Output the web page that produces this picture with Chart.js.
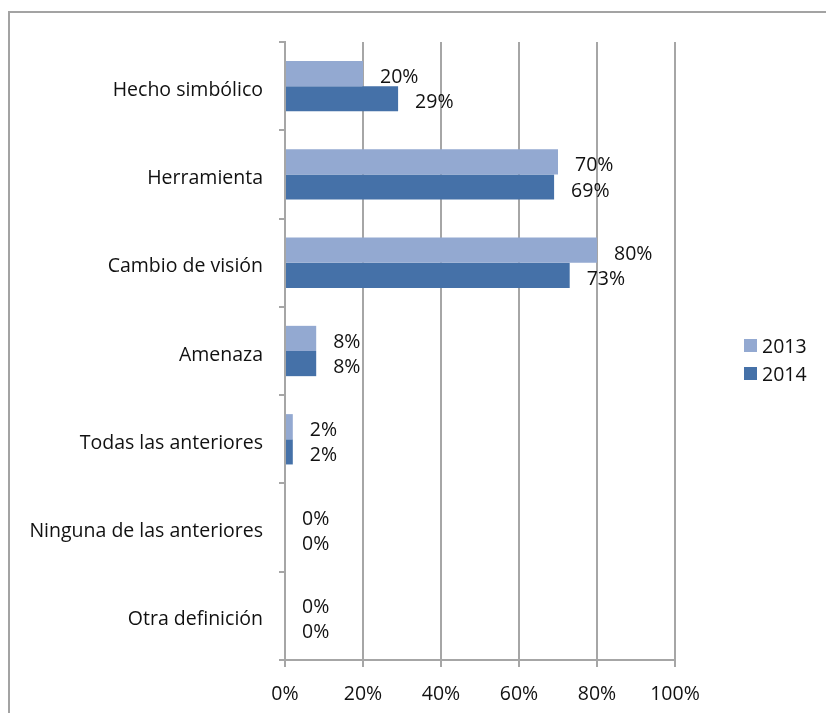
<!DOCTYPE html>
<html>
<head>
<meta charset="utf-8">
<script src="https://cdn.jsdelivr.net/npm/chart.js@4.4.0/dist/chart.umd.min.js"></script>
<style>
  html, body { margin: 0; padding: 0; background: #fff; }
  #wrap { position: relative; width: 826px; height: 713px; }
  #frame {
    position: absolute; left: 8px; top: 11px; right: 0; bottom: 0;
    border-top: 2px solid #a3a3a3; border-left: 2px solid #a3a3a3;
  }
  canvas { position: absolute; left: 0; top: 0; }
</style>
</head>
<body>
<div id="wrap">
  <div id="frame"></div>
  <canvas id="myBarChart" width="826" height="713"></canvas>
</div>
<script>
let categories = [
    'Hecho simbólico',
    'Herramienta',
    'Cambio de visión',
    'Amenaza',
    'Todas las anteriores',
    'Ninguna de las anteriores',
    'Otra definición',
];
let values2013 = [20, 70, 80, 8, 2, 0, 0];
let values2014 = [29, 69, 73, 8, 2, 0, 0];
let xTicks = [0, 20, 40, 60, 80, 100];

let fontFamily = '"Open Sans", "DejaVu Sans", sans-serif';
let gridColor = '#a6a6a6';
let textColor = '#111';

// value labels to the right of each bar
let valueLabels = {
    id: 'valueLabels',
    afterDatasetsDraw(chart) {
        let c = chart.ctx;
        c.save();
        c.font = '19.5px ' + fontFamily;
        c.fillStyle = textColor;
        c.textAlign = 'left';
        c.textBaseline = 'middle';
        chart.data.datasets.forEach(function (ds, i) {
            chart.getDatasetMeta(i).data.forEach(function (bar, j) {
                c.fillText(ds.data[j] + '%', bar.x + 17, bar.y + 4);
            });
        });
        c.restore();
    }
};

// legend on the right side
let sideLegend = {
    id: 'sideLegend',
    afterDraw(chart) {
        let c = chart.ctx;
        let x = chart.chartArea.right + 69;
        let y = 339;
        c.save();
        c.font = '19.5px ' + fontFamily;
        c.textBaseline = 'middle';
        c.textAlign = 'left';
        chart.data.datasets.forEach(function (ds, i) {
            let yy = y + i * 28;
            c.fillStyle = ds.backgroundColor;
            c.fillRect(x, yy, 13, 13);
            c.fillStyle = textColor;
            c.fillText(ds.label, x + 18, yy + 8);
        });
        c.restore();
    }
};

let ctx = document.getElementById('myBarChart').getContext('2d');
let myBarChart = new Chart(ctx, {
    type: 'bar',
    data: {
        labels: categories,
        datasets: [{
            label: '2013',
            data: values2013,
            backgroundColor: '#93a9d1',
        }, {
            label: '2014',
            data: values2014,
            backgroundColor: '#4571a8',
        }]
    },
    options: {
        indexAxis: 'y',
        responsive: false,
        animation: false,
        layout: { padding: { top: 42, right: 151, bottom: 0, left: 0 } },
        datasets: { bar: { categoryPercentage: 0.57, barPercentage: 1 } },
        plugins: {
            legend: { display: false },
            tooltip: { enabled: false },
        },
        scales: {
            x: {
                min: 0,
                max: 100,
                afterBuildTicks: function (axis) {
                    axis.ticks = xTicks.map(function (v) { return { value: v }; });
                },
                afterFit: function (axis) { axis.height = 53; },
                grid: {
                    color: gridColor,
                    lineWidth: 2,
                    tickLength: 7,
                },
                border: { color: gridColor, width: 2 },
                ticks: {
                    color: textColor,
                    font: { family: fontFamily, size: 19.5 },
                    padding: 16,
                    callback: function (v) { return v + '%'; },
                },
            },
            y: {
                afterFit: function (axis) { axis.width = 285; },
                grid: {
                    offset: true,
                    drawOnChartArea: false,
                    color: gridColor,
                    lineWidth: 2,
                    tickLength: 6,
                },
                border: { color: gridColor, width: 2 },
                ticks: {
                    color: textColor,
                    font: { family: fontFamily, size: 19.5 },
                    padding: 16,
                    labelOffset: 4,
                },
            },
        },
    },
    plugins: [valueLabels, sideLegend],
});
</script>
</body>
</html>
